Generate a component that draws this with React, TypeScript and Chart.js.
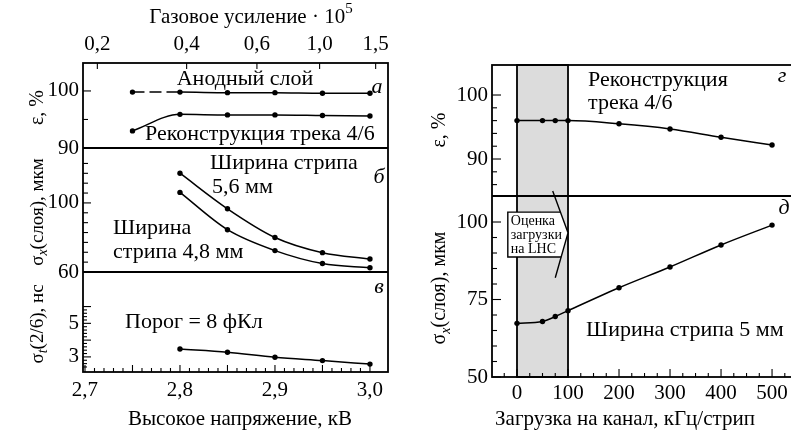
import React, { useEffect, useRef } from 'react';
import { Chart, registerables } from 'chart.js';
Chart.register(...registerables);

const FONT = '"Liberation Serif", "Times New Roman", serif';

// ---- Left figure (а, б, в) ----
const voltageEff = [2.75, 2.8, 2.85, 2.9, 2.95, 3.0];
const anodeLayerEff = [99.8, 99.8, 99.7, 99.7, 99.6, 99.6];
const track46Eff = [93.0, 95.9, 95.8, 95.8, 95.7, 95.6];
const voltageRes = [2.8, 2.85, 2.9, 2.95, 3.0];
const sigmaStrip56 = [117.2, 96.6, 80.0, 71.2, 67.5];
const sigmaStrip48 = [106.1, 84.5, 72.4, 64.9, 62.5];
const sigmaTime = [3.47, 3.28, 2.98, 2.78, 2.57];
const voltageTicks = [2.7, 2.8, 2.9, 3.0];
const gasGainLabels = ['0,2', '0,4', '0,6', '1,0', '1,5'];
const gasGainTickVoltage = [2.713, 2.807, 2.881, 2.947, 3.006];
const effTicksA = [90, 100];
const sigmaTicksB = [60, 100];
const timeTicksC = [3, 5];

// ---- Right figure (г, д) ----
const loadKHz = [0, 50, 75, 100, 200, 300, 400, 500];
const loadEff = [96.0, 96.0, 96.0, 96.0, 95.5, 94.7, 93.4, 92.2];
const loadSigma = [67.3, 67.9, 69.5, 71.4, 78.8, 85.5, 92.6, 99.0];
const loadTicks = [0, 100, 200, 300, 400, 500];
const effTicksG = [90, 100];
const sigmaTicksD = [50, 75, 100];
const lhcLoadRange = [0, 100];

const zip = (xs: number[], ys: number[]) => xs.map((x, i) => ({ x, y: ys[i] }));

function range(a: number, b: number, step: number) {
  const out: number[] = [];
  for (let k = 0; a + k * step <= b + 1e-9; k++) out.push(+(a + k * step).toFixed(6));
  return out;
}

function seg(ctx: CanvasRenderingContext2D, x1: number, y1: number, x2: number, y2: number) {
  ctx.beginPath();
  ctx.moveTo(x1, y1);
  ctx.lineTo(x2, y2);
  ctx.stroke();
}

type Part = { t: string; it?: boolean; sub?: boolean; sup?: boolean };

function rich(ctx: CanvasRenderingContext2D, x: number, y: number, parts: Part[], size: number, rotate = false, align: 'center' | 'left' = 'center') {
  ctx.save();
  ctx.translate(x, y);
  if (rotate) ctx.rotate(-Math.PI / 2);
  const fontFor = (p: Part) => `${p.it ? 'italic ' : ''}${p.sub || p.sup ? Math.round(size * 0.72) : size}px ${FONT}`;
  let total = 0;
  const widths = parts.map((p) => {
    ctx.font = fontFor(p);
    const w = ctx.measureText(p.t).width;
    total += w;
    return w;
  });
  let cx = align === 'center' ? -total / 2 : 0;
  ctx.textBaseline = 'middle';
  ctx.textAlign = 'left';
  ctx.fillStyle = '#000';
  parts.forEach((p, i) => {
    ctx.font = fontFor(p);
    const dy = p.sub ? size * 0.3 : p.sup ? -size * 0.38 : 0;
    ctx.fillText(p.t, cx, dy);
    cx += widths[i];
  });
  ctx.restore();
}

const txt = (ctx: CanvasRenderingContext2D, s: string, x: number, y: number, size = 20, align: 'center' | 'left' = 'left', italic = false) =>
  rich(ctx, x, y, [{ t: s, it: italic }], size, false, align);

const yTick = (ctx: CanvasRenderingContext2D, scale: any, left: number, v: number, len: number) => {
  const py = scale.getPixelForValue(v);
  seg(ctx, left, py, left + len, py);
};

const leftDecor = {
  id: 'leftDecor',
  afterDraw(chart: any) {
    const { ctx, chartArea: ca, scales } = chart;
    const { x, ya, yb, yc } = scales;
    ctx.save();
    ctx.strokeStyle = '#000';
    ctx.lineWidth = 1.8;
    ctx.strokeRect(ca.left, ca.top, ca.right - ca.left, ca.bottom - ca.top);
    seg(ctx, ca.left, yb.top, ca.right, yb.top);
    seg(ctx, ca.left, yc.top, ca.right, yc.top);
    ctx.lineWidth = 1.1;
    for (const v of range(2.7, 3.0, 0.01)) {
      const px = x.getPixelForValue(v);
      const big = Math.abs(v * 20 - Math.round(v * 20)) < 1e-6;
      seg(ctx, px, ca.bottom, px, ca.bottom - (big ? 7 : 4));
    }
    for (const v of gasGainTickVoltage) {
      const px = x.getPixelForValue(v);
      seg(ctx, px, ca.top, px, ca.top + 6);
    }
    for (const v of range(90, 100, 5)) yTick(ctx, ya, ca.left, v, v % 10 === 0 ? 8 : 5);
    for (let k = 0; k <= 11; k++) yTick(ctx, yb, ca.left, 60 + (k * 40) / 7, k === 0 || k === 7 ? 8 : 5);
    for (const v of range(2.4, 6.0, 0.2)) yTick(ctx, yc, ca.left, v, Math.abs(v - Math.round(v)) < 1e-6 ? 8 : 4);

    // axis titles
    rich(ctx, 251, 17, [{ t: 'Газовое усиление · 10' }, { t: '5', sup: true }], 21);
    rich(ctx, 240, 419, [{ t: 'Высокое напряжение, кВ' }], 21);
    rich(ctx, 38, (ya.top + ya.bottom) / 2 + 2, [{ t: 'ε, %' }], 20, true);
    rich(ctx, 38, 212, [{ t: 'σ' }, { t: 'x', it: true, sub: true }, { t: '(слоя), мкм' }], 19, true);
    rich(ctx, 38, 324, [{ t: 'σ' }, { t: 't', it: true, sub: true }, { t: '(2/6), нс' }], 19, true);

    // annotations
    txt(ctx, 'Анодный слой', 245, 79, 22, 'center');
    txt(ctx, 'Реконструкция трека 4/6', 145, 134, 22);
    txt(ctx, 'Ширина стрипа', 210, 163, 22);
    txt(ctx, '5,6 мм', 212, 187, 22);
    txt(ctx, 'Ширина', 113, 228, 22);
    txt(ctx, 'стрипа 4,8 мм', 113, 252, 22);
    txt(ctx, 'Порог = 8 фКл', 125, 322, 22);
    txt(ctx, 'а', 377, 87, 22, 'center', true);
    txt(ctx, 'б', 379, 177, 22, 'center', true);
    txt(ctx, 'в', 379, 287, 22, 'center', true);
    ctx.restore();
  },
};

const rightDecor = {
  id: 'rightDecor',
  beforeDatasetsDraw(chart: any) {
    const { ctx, chartArea: ca, scales } = chart;
    const x = scales.x;
    const x0 = x.getPixelForValue(lhcLoadRange[0]);
    const x1 = x.getPixelForValue(lhcLoadRange[1]);
    ctx.save();
    ctx.fillStyle = '#dcdcdc';
    ctx.fillRect(x0, ca.top, x1 - x0, ca.bottom - ca.top);
    ctx.strokeStyle = '#000';
    ctx.lineWidth = 1.8;
    ctx.strokeRect(x0, ca.top, x1 - x0, ca.bottom - ca.top);
    ctx.restore();
  },
  afterDraw(chart: any) {
    const { ctx, chartArea: ca, scales } = chart;
    const { x, yg, yd } = scales;
    ctx.save();
    ctx.strokeStyle = '#000';
    ctx.lineWidth = 1.8;
    ctx.strokeRect(ca.left, ca.top, ca.right - ca.left, ca.bottom - ca.top);
    seg(ctx, ca.left, yd.top, ca.right, yd.top);
    ctx.lineWidth = 1.1;
    for (const v of range(-25, 525, 25)) {
      const px = x.getPixelForValue(v);
      seg(ctx, px, ca.bottom, px, ca.bottom - (v % 100 === 0 ? 8 : 4));
    }
    for (const v of range(86, 100, 2)) yTick(ctx, yg, ca.left, v, v % 10 === 0 ? 9 : 5);
    for (const v of range(50, 100, 5)) yTick(ctx, yd, ca.left, v, v % 25 === 0 ? 9 : 5);

    // callout "Оценка загрузки на LHC"
    const P = (vx: number, vy: number): [number, number] => [x.getPixelForValue(vx), yd.getPixelForValue(vy)];
    const bl = P(-18, 103.2), br = P(85, 103.2), tip = P(100, 96.5), bb = P(86.6, 88.7), bl2 = P(-18, 88.7);
    const dTop = P(70, 110), dBot = P(75, 82);
    ctx.fillStyle = '#fff';
    ctx.beginPath();
    ctx.moveTo(...bl);
    ctx.lineTo(...br);
    ctx.lineTo(...tip);
    ctx.lineTo(...bb);
    ctx.lineTo(...bl2);
    ctx.closePath();
    ctx.fill();
    ctx.lineWidth = 1.4;
    ctx.beginPath();
    ctx.moveTo(...br);
    ctx.lineTo(...bl);
    ctx.lineTo(...bl2);
    ctx.lineTo(...bb);
    ctx.stroke();
    ctx.beginPath();
    ctx.moveTo(...dTop);
    ctx.lineTo(...tip);
    ctx.lineTo(...dBot);
    ctx.stroke();
    txt(ctx, 'Оценка', bl[0] + 3, bl[1] + 9, 14);
    txt(ctx, 'загрузки', bl[0] + 3, bl[1] + 23, 14);
    txt(ctx, 'на LHC', bl[0] + 3, bl[1] + 37, 14);

    // titles
    rich(ctx, 225, 419, [{ t: 'Загрузка на канал, кГц/стрип' }], 21);
    rich(ctx, 40, 130, [{ t: 'ε, %' }], 20, true);
    rich(ctx, 40, 288, [{ t: 'σ' }, { t: 'x', it: true, sub: true }, { t: '(слоя), мкм' }], 20, true);

    // annotations
    txt(ctx, 'Реконструкция', 188, 80, 22);
    txt(ctx, 'трека 4/6', 188, 103, 22);
    txt(ctx, 'Ширина стрипа 5 мм', 186, 330, 22);
    txt(ctx, 'г', 382, 76, 22, 'center', true);
    txt(ctx, 'д', 384, 208, 22, 'center', true);
    ctx.restore();
  },
};

const tickFont = { family: FONT, size: 21 };

function yAxis(min: number, max: number, weight: number, labels: number[], width: number, fmt: (v: number) => string = (v) => String(v)) {
  return {
    type: 'linear',
    position: 'left',
    stack: 'left',
    stackWeight: weight,
    min,
    max,
    grid: { display: false, drawTicks: false },
    border: { display: false },
    afterBuildTicks: (s: any) => {
      s.ticks = labels.map((v) => ({ value: v }));
    },
    afterFit: (s: any) => {
      s.width = width;
    },
    ticks: { autoSkip: false, padding: 4, color: '#000', font: tickFont, callback: (v: any) => fmt(Number(v)) },
  };
}

const lineStyle = {
  borderColor: '#000',
  backgroundColor: '#000',
  borderWidth: 1.5,
  pointRadius: 2.7,
  pointBackgroundColor: '#000',
  pointBorderWidth: 0,
  cubicInterpolationMode: 'monotone',
  fill: false,
};

export default function App() {
  const leftRef = useRef<HTMLCanvasElement>(null);
  const rightRef = useRef<HTMLCanvasElement>(null);

  useEffect(() => {
    const XL_MIN = 2.6979;
    const XL_MAX = 3.019;
    const left = new Chart(leftRef.current as HTMLCanvasElement, {
      type: 'line',
      data: {
        datasets: [
          {
            ...lineStyle,
            data: zip(voltageEff, anodeLayerEff),
            yAxisID: 'ya',
            segment: { borderDash: (c: any) => (c.p0DataIndex === 0 ? [12, 5] : undefined) },
          },
          { ...lineStyle, data: zip(voltageEff, track46Eff), yAxisID: 'ya' },
          { ...lineStyle, data: zip(voltageRes, sigmaStrip56), yAxisID: 'yb' },
          { ...lineStyle, data: zip(voltageRes, sigmaStrip48), yAxisID: 'yb' },
          { ...lineStyle, data: zip(voltageRes, sigmaTime), yAxisID: 'yc' },
        ] as any,
      },
      options: {
        responsive: false,
        animation: false,
        devicePixelRatio: 1,
        layout: { padding: { left: 0, right: 12, top: 0, bottom: 0 } },
        plugins: { legend: { display: false }, tooltip: { enabled: false } },
        scales: {
          x: {
            type: 'linear',
            position: 'bottom',
            min: XL_MIN,
            max: XL_MAX,
            grid: { display: false, drawTicks: false },
            border: { display: false },
            afterBuildTicks: (s: any) => {
              s.ticks = voltageTicks.map((v) => ({ value: v }));
            },
            afterFit: (s: any) => {
              s.height = 62;
            },
            ticks: { autoSkip: false, maxRotation: 0, padding: 6, color: '#000', font: tickFont, callback: (v: any) => Number(v).toFixed(1).replace('.', ',') },
          },
          x2: {
            type: 'linear',
            position: 'top',
            min: XL_MIN,
            max: XL_MAX,
            grid: { display: false, drawTicks: false },
            border: { display: false },
            afterBuildTicks: (s: any) => {
              s.ticks = gasGainTickVoltage.map((v) => ({ value: v }));
            },
            afterFit: (s: any) => {
              s.height = 63;
            },
            ticks: { autoSkip: false, maxRotation: 0, padding: 6, color: '#000', font: tickFont, callback: (_v: any, i: number) => gasGainLabels[i] },
          },
          // stacked axes are laid out bottom-first
          yc: yAxis(2.1, 8.06, 100, timeTicksC, 83),
          yb: yAxis(60, 131.8, 124, sigmaTicksB, 83),
          ya: yAxis(90, 104.9, 85, effTicksA, 83),
        } as any,
      },
      plugins: [leftDecor],
    });

    const right = new Chart(rightRef.current as HTMLCanvasElement, {
      type: 'line',
      data: {
        datasets: [
          { ...lineStyle, data: zip(loadKHz, loadEff), yAxisID: 'yg' },
          { ...lineStyle, data: zip(loadKHz, loadSigma), yAxisID: 'yd' },
        ] as any,
      },
      options: {
        responsive: false,
        animation: false,
        devicePixelRatio: 1,
        layout: { padding: { left: 0, right: 5, top: 65, bottom: 0 } },
        plugins: { legend: { display: false }, tooltip: { enabled: false } },
        scales: {
          x: {
            type: 'linear',
            position: 'bottom',
            min: -49,
            max: 545,
            grid: { display: false, drawTicks: false },
            border: { display: false },
            afterBuildTicks: (s: any) => {
              s.ticks = loadTicks.map((v) => ({ value: v }));
            },
            afterFit: (s: any) => {
              s.height = 57;
            },
            ticks: { autoSkip: false, maxRotation: 0, padding: 4, color: '#000', font: tickFont, callback: (v: any) => String(v) },
          },
          yd: yAxis(50, 108.39, 181, sigmaTicksD, 92),
          yg: yAxis(84.22, 104.69, 131, effTicksG, 92),
        } as any,
      },
      plugins: [rightDecor],
    });

    return () => {
      left.destroy();
      right.destroy();
    };
  }, []);

  return (
    <div style={{ position: 'fixed', left: 0, top: 0, width: 791, height: 434, overflow: 'hidden', background: '#fff' }}>
      <canvas ref={leftRef} width={400} height={434} style={{ position: 'absolute', left: 0, top: 0, width: 400, height: 434 }} />
      <canvas ref={rightRef} width={400} height={434} style={{ position: 'absolute', left: 400, top: 0, width: 400, height: 434 }} />
    </div>
  );
}
